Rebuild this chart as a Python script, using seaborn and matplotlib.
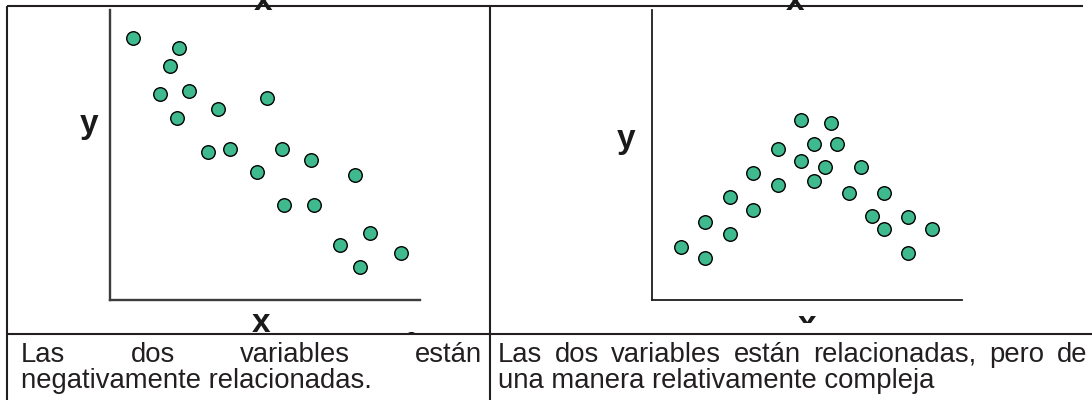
import matplotlib
matplotlib.use("Agg")
import matplotlib.pyplot as plt
import seaborn as sns
from matplotlib.lines import Line2D
from matplotlib.transforms import Bbox, TransformedBbox

# ---------------- data ----------------
left_x = [0.73, 2.23, 1.95, 1.61, 2.55, 2.16, 3.47, 5.07, 3.15, 3.87, 5.54,
          6.47, 4.73, 7.91, 5.62, 6.58, 8.39, 7.41, 9.38, 8.07, 9.71]
left_y = [9.04, 8.68, 8.07, 7.09, 7.21, 6.27, 6.58, 6.98, 5.09, 5.22, 5.22,
          4.82, 4.40, 4.30, 3.29, 3.29, 2.32, 1.90, 1.63, 1.13, -1.34]

right_x = [4.81, 5.76, 4.05, 5.22, 5.97, 4.81, 5.59, 6.73, 3.26, 4.05, 5.22, 2.50,
           6.35, 7.48, 3.26, 7.11, 8.26, 1.71, 7.48, 9.03, 2.50, 0.93, 1.71, 8.26]
right_y = [6.21, 6.11, 5.22, 5.38, 5.38, 4.79, 4.58, 4.58, 4.37, 3.96, 4.10, 3.54,
           3.70, 3.70, 3.10, 2.90, 2.86, 2.69, 2.44, 2.46, 2.27, 1.84, 1.45, 1.61]

axis_x_label = "x"
axis_y_label = "y"
left_caption = ["Las dos variables están", "negativamente relacionadas."]
right_caption = ["Las dos variables están relacionadas, pero de",
                 "una manera relativamente compleja"]

# ---------------- style ----------------
sns.set_style("white")
plt.rcParams["font.family"] = ["Liberation Sans", "DejaVu Sans"]

W, H = 1092, 400
fig = plt.figure(figsize=(W / 100, H / 100), dpi=100)
fig.patch.set_facecolor("white")

DOT = "#3fba8e"
INK = "#231f20"


def fx(px):
    return px / W


def fy(py):
    return 1 - py / H


def cell_box(x0, y0, x1, y1):
    return TransformedBbox(Bbox([[fx(x0), fy(y1)], [fx(x1), fy(y0)]]), fig.transFigure)


def make_axes(x0, x1, ytop, ybot, spine_color, spine_lw):
    ax = fig.add_axes([fx(x0), fy(ybot), fx(x1) - fx(x0), fy(ytop) - fy(ybot)])
    ax.set_xlim(0, 10)
    ax.set_ylim(0, 10)
    ax.set_xticks([])
    ax.set_yticks([])
    ax.set_xlabel("")
    ax.set_ylabel("")
    ax.patch.set_alpha(0)
    for s in ["top", "right"]:
        ax.spines[s].set_visible(False)
    for s in ["left", "bottom"]:
        ax.spines[s].set_color(spine_color)
        ax.spines[s].set_linewidth(spine_lw)
    return ax


# left plot
axL = make_axes(110, 420, 10, 300, "#3c3c3c", 1.7)
sns.scatterplot(x=left_x, y=left_y, ax=axL, color=DOT, edgecolor="black",
                linewidth=1.0, s=95, legend=False)
axL.collections[-1].set_clip_path(None)
axL.collections[-1].set_clip_box(cell_box(7, 0, 490, 334))

# right plot
axR = make_axes(652, 962, 10, 300, "#1e1e1e", 1.3)
sns.scatterplot(x=right_x, y=right_y, ax=axR, color=DOT, edgecolor="black",
                linewidth=1.0, s=95, legend=False)

# axis letters (bold, like the original pasted images)
lab_kw = dict(fontsize=24, fontweight="bold", color="#1a1a1a", ha="center",
              va="baseline")
fig.text(fx(89), fy(133), axis_y_label, **lab_kw)
fig.text(fx(626), fy(148), axis_y_label, **lab_kw)
# partial letters cut by the image edges (as in the original)
fig.text(fx(263), fy(9.5), axis_x_label, **lab_kw)
fig.text(fx(795), fy(10), axis_x_label, **lab_kw)
tb = fig.text(fx(261.5), fy(332.5), axis_x_label, clip_on=True, **lab_kw)
tb.set_clip_box(cell_box(7, 0, 490, 334))
tr = fig.text(fx(807), fy(334), axis_x_label, clip_on=True, **lab_kw)
tr.set_clip_box(cell_box(490, 0, 1092, 323))

# table borders
def hline(y, x0, x1, lw=1.5):
    fig.add_artist(Line2D([fx(x0), fx(x1)], [fy(y), fy(y)], color=INK, lw=lw,
                          transform=fig.transFigure, solid_capstyle="butt"))


def vline(x, y0, y1, lw=1.5):
    fig.add_artist(Line2D([fx(x), fx(x)], [fy(y0), fy(y1)], color=INK, lw=lw,
                          transform=fig.transFigure, solid_capstyle="butt"))


hline(6, 7, 1083)
hline(334, 7, 1092)
vline(7, 6, 400)
vline(490, 6, 400)

# captions
TXT = dict(fontsize=19.8, color=INK, va="baseline", ha="left")
renderer = fig.canvas.get_renderer()


def justify(line, x0, x1, y):
    words = line.split(" ")
    texts = [fig.text(fx(x0), fy(y), w, **TXT) for w in words]
    widths = [t.get_window_extent(renderer).width for t in texts]
    gap = (x1 - x0 - sum(widths)) / (len(words) - 1)
    x = x0
    for t, w in zip(texts, widths):
        t.set_x(fx(x))
        x += w + gap


justify(left_caption[0], 21, 482, 361.5)
fig.text(fx(21), fy(388), left_caption[1], **TXT)
justify(right_caption[0], 498, 1087, 361.5)
fig.text(fx(498), fy(388), right_caption[1], **TXT)

fig.savefig("out.png", dpi=100, facecolor="white")
